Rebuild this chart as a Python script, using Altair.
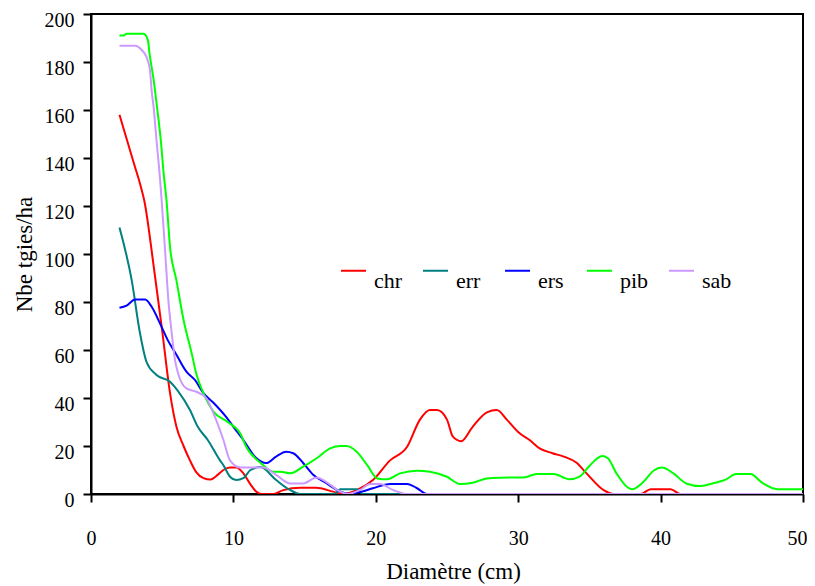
import altair as alt
import pandas as pd

series = ["chr", "err", "ers", "pib", "sab"]
colors = ["#FF0000", "#008080", "#0000FF", "#00FF00", "#CC99FF"]

chr_x = [2, 2.5, 3, 3.5, 3.75, 4.4, 5.0, 5.55, 6.0, 6.5, 6.95, 7.4, 7.9, 8.4, 8.8, 9.3, 9.75, 10.2, 10.7, 11.2, 11.6, 12.0,
         12.8, 13.5, 14.7, 15.8, 17.0, 17.7, 18.7, 19.8, 21.0, 22.2, 23.1, 23.8, 24.3, 25.0, 25.4, 26.0, 26.8, 27.8, 28.5,
         29.2, 30.1, 30.8, 31.5, 32.4, 33.2, 34.1, 34.8, 36.0, 36.7, 38.6, 39.3, 40.7, 41.4, 50]
chr_y = [158, 148, 138, 128, 122, 95, 68, 42, 28, 20, 14, 9, 6.6, 6, 7.5, 10, 11, 11, 8.6, 4, 1, 0,
         0, 1.6, 2.6, 2.6, 1, 0, 1.7, 5.8, 14, 19.7, 31, 35, 35, 31, 24, 22, 28, 34, 35,
         31, 25.3, 22.5, 19, 17, 15.6, 13, 8.6, 1.6, 0, 0, 2, 2, 0, 0]

err_x = [2, 2.86, 3.44, 3.9, 4.6, 5.55, 6.1, 6.95, 7.5, 8.2, 9.06, 9.3, 9.76, 10.2, 10.7, 11.2, 11.9, 13.0, 14.0, 14.7,
         17.1, 17.5, 18.7, 19.1, 50]
err_y = [111, 89, 67, 55, 49.6, 46.8, 43, 35, 28, 22.5, 14, 12, 7.2, 5.8, 6.6, 10, 11.2, 5.8, 1.6, 0,
         0, 2, 2, 0, 0]

ers_x = [2, 2.5, 3.1, 3.8, 4.26, 4.85, 5.4, 6.0, 6.7, 7.3, 7.9, 8.6, 9.5, 10.0, 10.7, 11.6, 12.3, 13.0, 13.7, 14.2,
         14.9, 15.6, 16.5, 17.5, 18.2, 19.0, 19.8, 21.0, 22.2, 22.9, 23.6, 50]
ers_y = [77.6, 78.5, 81, 81, 78, 71, 64, 58, 51, 47.5, 42, 38, 32, 28, 22.5, 15, 12.9, 15.6, 17.6, 17,
         12.9, 8, 4.6, 1, 0, 1, 2.4, 4.2, 4.2, 2.4, 0, 0]

pib_x = [2, 2.3, 2.5, 3.7, 4.0, 4.1, 4.4, 4.66, 4.9, 5.1, 5.3, 5.55, 6.0, 6.5, 7.07, 7.4, 7.9, 8.6, 9.6, 10.5, 10.9,
         11.9, 12.8, 13.3, 14.0, 14.9, 15.85, 16.8, 17.5, 17.95, 18.66, 19.4, 20.1, 20.8, 21.7, 22.9, 23.8, 25.0,
         25.9, 26.8, 27.8, 28.7, 30.4, 31.3, 32.5, 33.6, 34.3, 35.0, 35.9, 36.3, 36.9, 38.0, 38.8, 39.5, 40.1,
         40.9, 41.8, 42.8, 43.5, 44.6, 45.3, 46.3, 47.2, 48.2, 50]
pib_y = [191, 191, 191.8, 191.8, 189, 184, 172.5, 160, 147.5, 133.7, 122.5, 103, 89, 72.5, 58.6, 50, 42, 34.3, 30, 25, 19.7,
         13, 9.3, 9.3, 8.6, 11.4, 14.9, 19, 20, 20, 17.6, 12, 6.5, 6.1, 8.6, 9.7, 9.3, 7.2,
         4.2, 4.7, 6.5, 6.8, 6.9, 8.3, 8.3, 6.1, 7.2, 11.7, 15.8, 14.9, 8.6, 2, 5.1, 9.7, 11,
         8.6, 4.4, 3.3, 4.2, 6.1, 8.3, 8.3, 4.4, 2, 2]

sab_x = [2, 3.1, 3.56, 3.9, 4.14, 4.26, 4.4, 4.6, 4.85, 4.96, 5.2, 5.43, 5.67, 5.9, 6.13, 6.7, 7.4, 8.1, 8.6, 9.3,
         9.76, 10.5, 12.1, 13.0, 14.0, 14.9, 15.85, 16.5, 17.5, 18.0, 18.9, 19.6, 20.3, 21.2, 22.2, 50]
sab_y = [186.8, 186.8, 185, 182, 176.7, 168, 161, 147.5, 131, 122.5, 101.7, 81, 67, 55.8, 50, 44, 42.6, 39.9, 33.6, 22.5,
         14, 11, 11, 8, 4.4, 4.4, 6.9, 5.1, 1, 0, 1.7, 4.2, 4.2, 1.7, 0, 0]

xs = [chr_x, err_x, ers_x, pib_x, sab_x]
ys = [chr_y, err_y, ers_y, pib_y, sab_y]

rows = []
for name, sx, sy in zip(series, xs, ys):
    for i, (a, b) in enumerate(zip(sx, sy)):
        rows.append({"serie": name, "d": a, "n": b, "i": i})
df = pd.DataFrame(rows)

FONT = "'Liberation Serif', 'Times New Roman', 'DejaVu Serif', serif"

chart = alt.Chart(df).mark_line(strokeWidth=2, clip=True, interpolate="monotone").encode(
    x=alt.X("d:Q", scale=alt.Scale(domain=[0, 50], nice=False),
            axis=alt.Axis(title="Diamètre (cm)", values=[0, 10, 20, 30, 40, 50], grid=False,
                          labelFont=FONT, titleFont=FONT,
                          labelFontSize=20, labelPadding=26, tickSize=8, tickWidth=2, domainWidth=2,
                          domainColor="black", tickColor="black", labelColor="black",
                          labelAlign={"condition": {"test": "datum.value == 50", "value": "right"},
                                      "value": "center"},
                          labelOffset={"condition": {"test": "datum.value == 50", "value": 4},
                                       "value": 0},
                          titleFontSize=23, titleFontWeight="normal", titleX=362, titleY=77,
                          titleBaseline="middle", titleAlign="center", titleColor="black",
                          labelFlush=False)),
    y=alt.Y("n:Q", scale=alt.Scale(domain=[0, 200], nice=False),
            axis=alt.Axis(title="Nbe tgies/ha", values=list(range(0, 201, 20)), grid=False,
                          labelFont=FONT, titleFont=FONT,
                          labelFontSize=20, labelPadding=9, labelOffset=6, tickSize=8, tickWidth=2,
                          domainWidth=2, domainColor="black", tickColor="black", labelColor="black",
                          titleFontSize=23, titleFontWeight="normal", titleX=-67, titleY=240,
                          titleBaseline="middle", titleAlign="center", titleAngle=270,
                          titleColor="black", labelFlush=False)),
    color=alt.Color("serie:N", scale=alt.Scale(domain=series, range=colors),
                    legend=alt.Legend(title=None, orient="none", legendX=249, legendY=243,
                                      direction="horizontal", columns=5, gridAlign="all",
                                      columnPadding=15, symbolType="stroke", symbolSize=625,
                                      symbolStrokeWidth=2, labelFont=FONT, labelFontSize=22,
                                      labelOffset=7, labelBaseline="top", labelColor="black",
                                      padding=0)),
    order="i:Q",
).properties(
    width=712, height=480,
    autosize=alt.AutoSizeParams(type="none"),
    padding={"left": 83, "top": 6, "right": 4, "bottom": 92},
).configure(font=FONT).configure_view(stroke="black", strokeWidth=2)

chart.save("out.html", embed_options={"renderer": "svg", "actions": False})
